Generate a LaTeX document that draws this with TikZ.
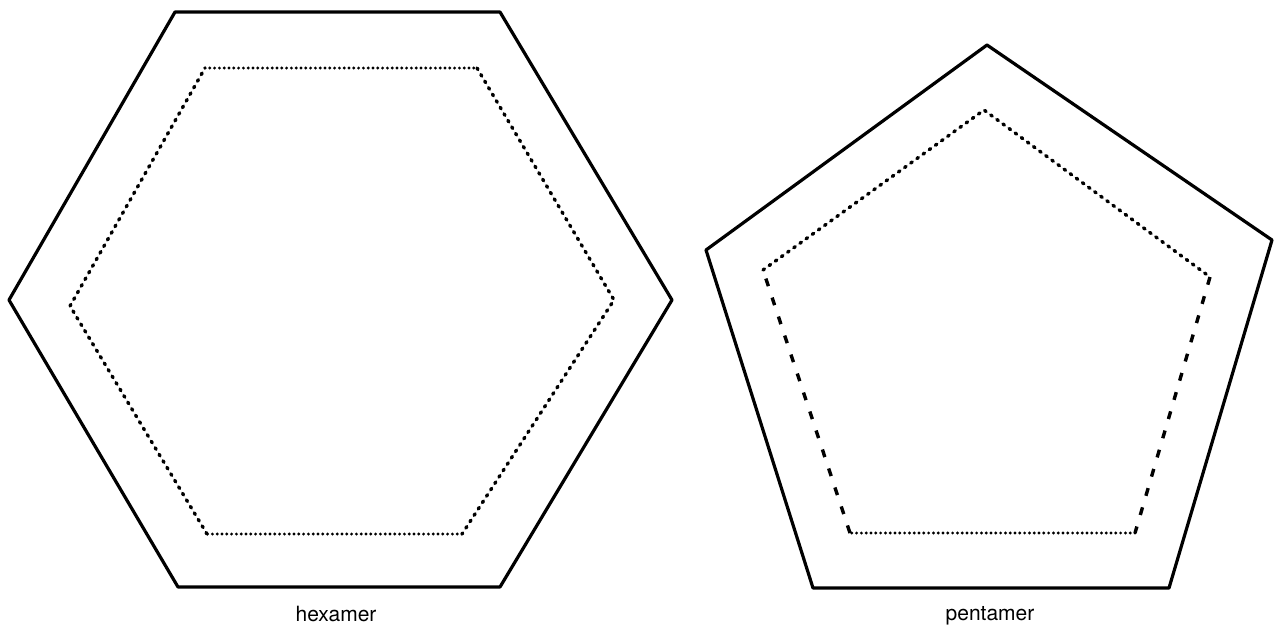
\documentclass[tikz,border=0pt]{standalone}
\usepackage{fontspec}
\setmainfont{TeX Gyre Heros}
\usetikzlibrary{positioning}
\tikzset{
  outline/.style={line width=1.6pt, line join=round},
  densedots/.style={line width=1.6pt, line cap=round, dash pattern=on 0pt off 2.4pt},
  sparsedots/.style={line width=1.7pt, line cap=round, dash pattern=on 0.9pt off 2.9pt},
  dashseg/.style={line width=1.7pt, dash pattern=on 4pt off 6pt},
  caption/.style={font=\fontsize{10.5}{12}\selectfont, inner sep=0pt}
}
\begin{document}
\begin{tikzpicture}[x=0.5pt, y=-0.5pt]
  \useasboundingbox (0,0) rectangle (1274,628);
  % hexamer
  \draw[outline] (175,12) -- (500,12) -- (672,300) -- (500,587) -- (178,587) -- (9,300) -- cycle;
  \draw[densedots] (205,68) -- (477,68);
  \draw[sparsedots] (477,68) -- (614,300) -- (462,534);
  \draw[densedots] (462,534) -- (207,534);
  \draw[sparsedots] (207,534) -- (70,306) -- (205,68);
  \node[caption] (hexlabel) at (336,614) {hexamer};
  % pentamer
  \draw[outline] (987,45) -- (1272,240) -- (1169,588) -- (813,588) -- (706,250) -- cycle;
  \draw[sparsedots] (763,270) -- (984,110) -- (1210,277);
  \draw[dashseg] (1210,277) -- (1135,533);
  \draw[densedots] (1135,533) -- (850,533);
  \draw[dashseg] (850,533) -- (763,270);
  \node[caption] (pentlabel) at (990,616) {pentamer};
\end{tikzpicture}
\end{document}
